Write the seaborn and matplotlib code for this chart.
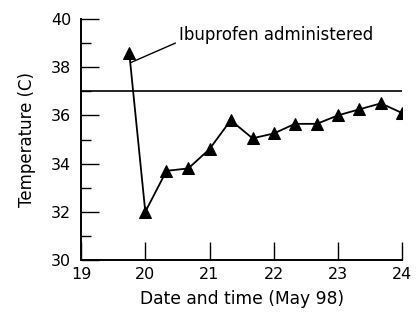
import matplotlib
matplotlib.use("Agg")
import matplotlib.pyplot as plt
import seaborn as sns
import pandas as pd
from matplotlib.ticker import MultipleLocator

# Data (day of May 1998, temperature in C)
dates = [19.75, 20.0, 20.33, 20.67, 21.0, 21.33, 21.67, 22.0, 22.33, 22.67, 23.0, 23.33, 23.67, 24.0]
temps = [38.6, 32.0, 33.7, 33.8, 34.6, 35.8, 35.05, 35.25, 35.65, 35.65, 36.0, 36.25, 36.5, 36.1]
reference_temp = 37.0
x_ticks = [19, 20, 21, 22, 23, 24]
y_ticks = [30, 32, 34, 36, 38, 40]
annotation = "Ibuprofen administered"

sns.set_style("ticks")
plt.rcParams['font.family'] = ['DejaVu Sans']
plt.rcParams['text.color'] = 'black'
plt.rcParams['axes.labelcolor'] = 'black'

df = pd.DataFrame({"date": dates, "temp": temps})

fig = plt.figure(figsize=(4.18, 3.12), dpi=100)
ax = fig.add_axes([0.194, 0.1667, 0.768, 0.7723])

sns.lineplot(data=df, x="date", y="temp", ax=ax, color="black", linewidth=1.3,
             marker="^", markersize=8, markeredgecolor="black", markerfacecolor="black")

ax.axhline(reference_temp, xmin=0, xmax=1, color="black", linewidth=1.2)

ax.set_xlim(19, 24)
ax.set_ylim(30, 40)
ax.set_xticks(x_ticks)
ax.set_yticks(y_ticks)
ax.yaxis.set_minor_locator(MultipleLocator(1))

for s in ["top", "right"]:
    ax.spines[s].set_visible(False)
for s in ["left", "bottom"]:
    ax.spines[s].set_linewidth(1.4)
    ax.spines[s].set_color("black")

ax.tick_params(axis="both", which="major", direction="in", length=13, width=1.0,
               labelsize=11.5, colors="black")
ax.tick_params(axis="y", which="major", pad=7)
ax.tick_params(axis="x", which="major", pad=5)
ax.tick_params(axis="y", which="minor", direction="in", length=7, width=1.0, colors="black")
ax.tick_params(axis="x", which="minor", length=0)

ax.set_xlabel("Date and time (May 98)", fontsize=12.3, labelpad=6, color="black")
ax.set_ylabel("Temperature (C)", fontsize=12, labelpad=11, color="black")

ax.annotate(annotation, xy=(19.78, 38.2), xytext=(20.52, 38.95),
            fontsize=12, ha="left", va="bottom", color="black",
            arrowprops=dict(arrowstyle="-", color="black", lw=1.0,
                            shrinkA=0, shrinkB=0, relpos=(0, 0.15)))

fig.savefig("out.png", dpi=100)
